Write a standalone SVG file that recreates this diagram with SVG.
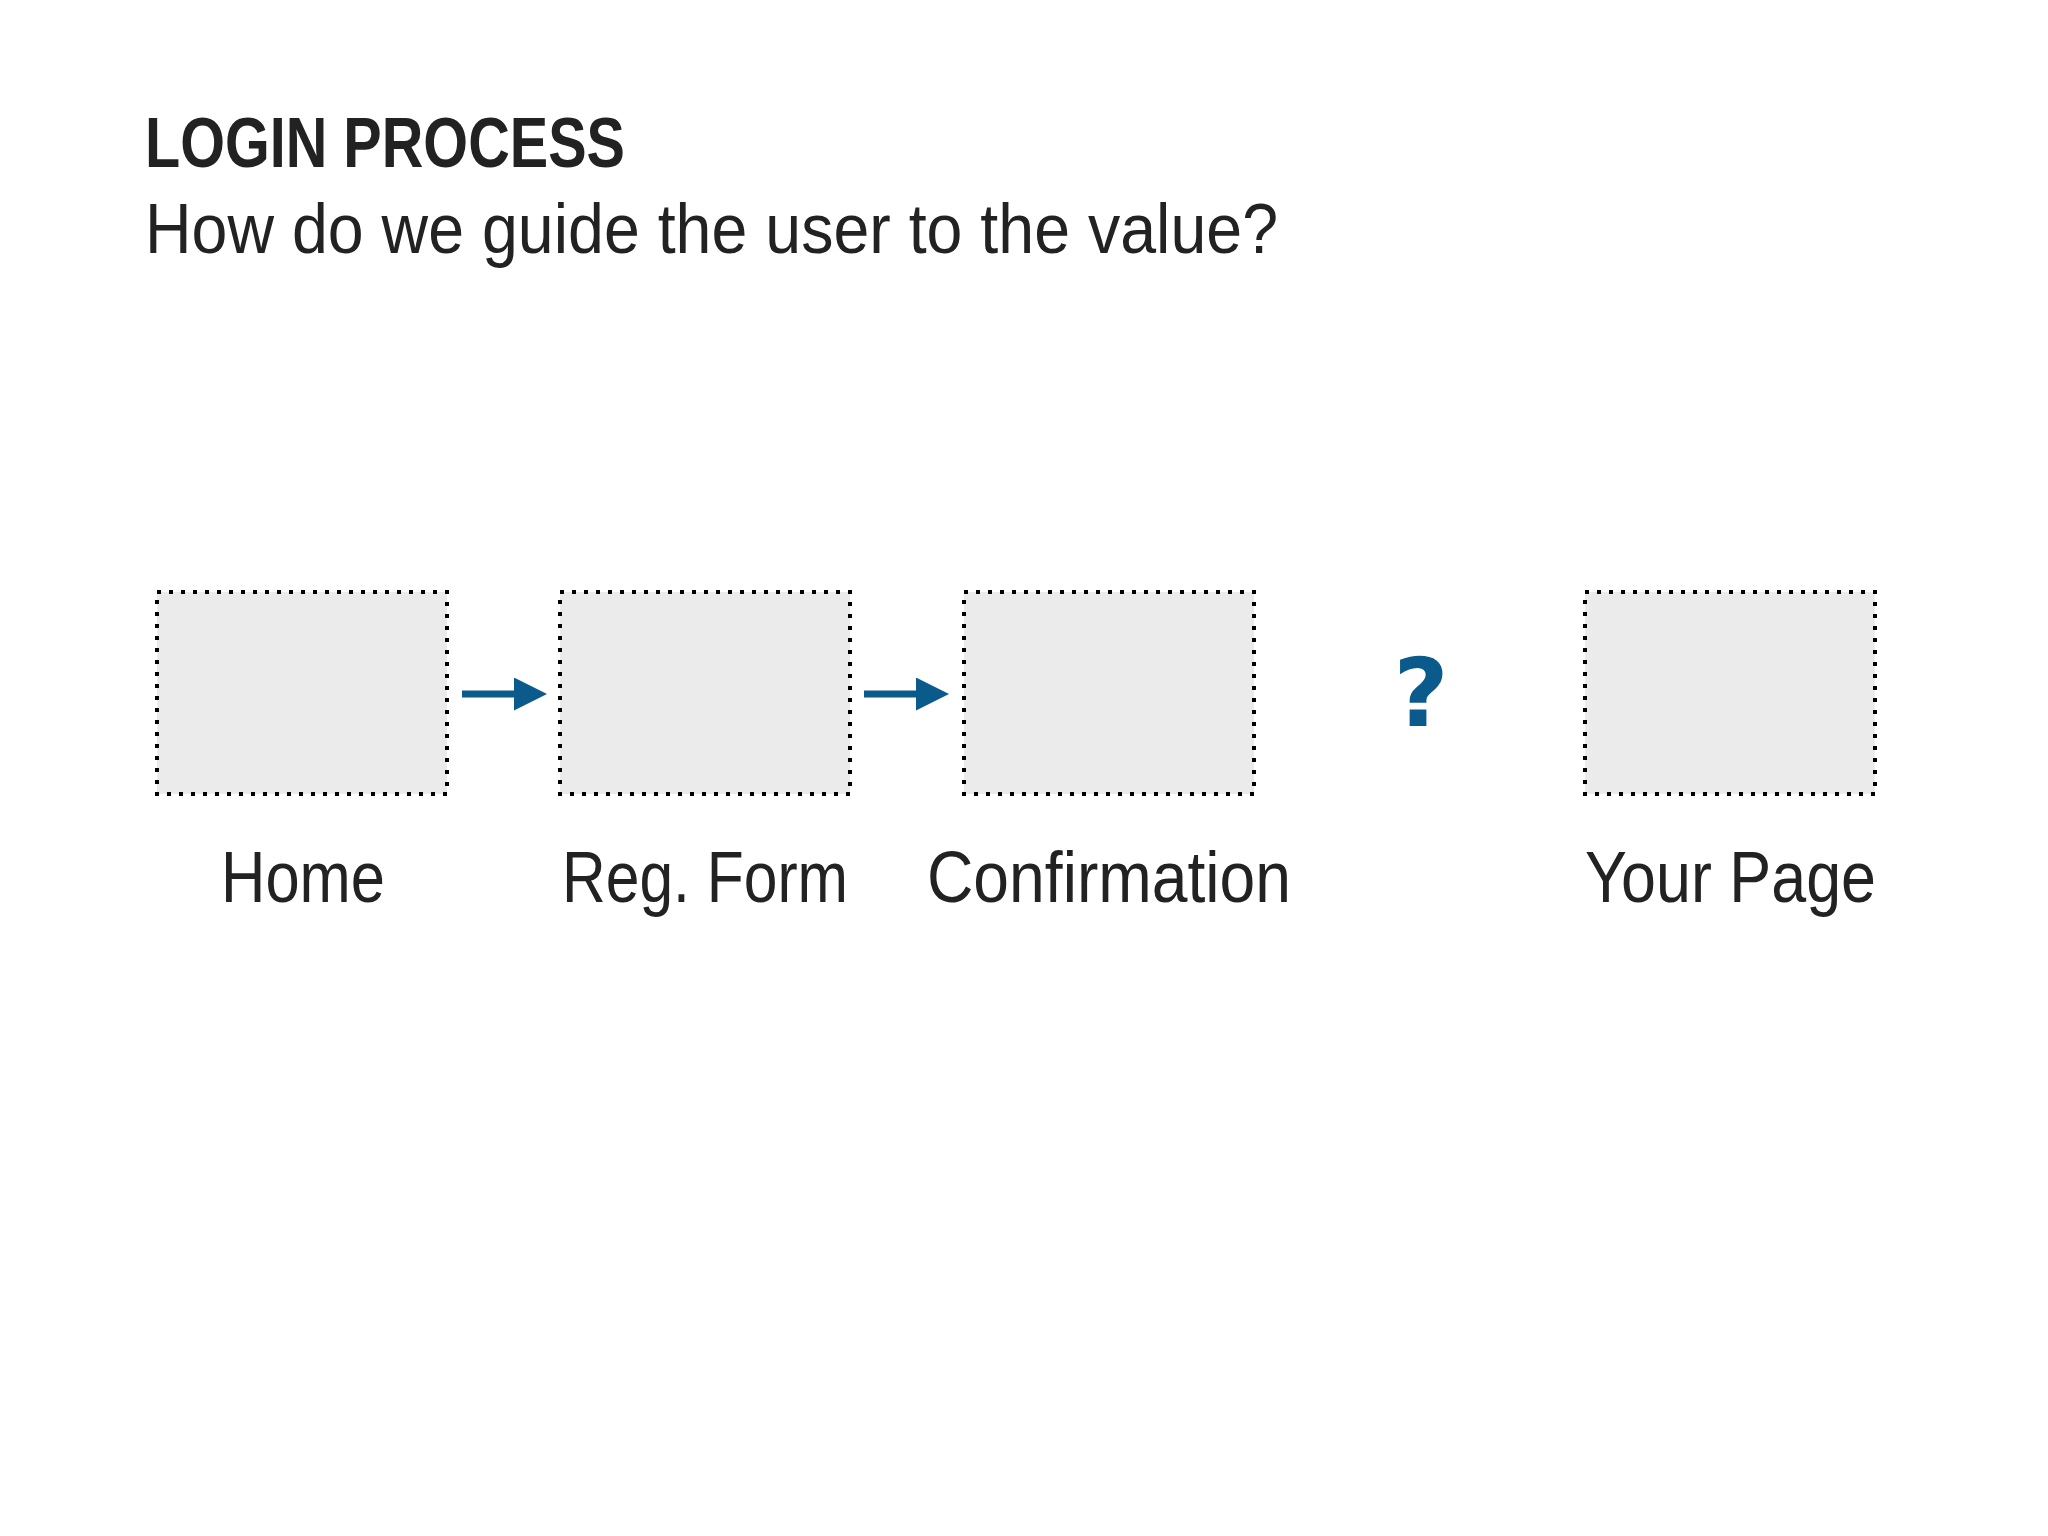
<svg xmlns="http://www.w3.org/2000/svg" width="2048" height="1536" viewBox="0 0 2048 1536">
  <style>
    .t { font-family: "Liberation Sans", Arial, sans-serif; fill: #222222; }
    .box { fill: #ebebec; stroke: #000000; stroke-width: 4; stroke-dasharray: 4 8; }
    .arr { stroke: #0a5a8b; stroke-width: 7; fill: none; }
  </style>
  <defs>
    <marker id="ah" markerUnits="userSpaceOnUse" markerWidth="33" markerHeight="33" viewBox="0 0 33 33" refX="0" refY="16.5" orient="auto">
      <path d="M0,0 L33,16.5 L0,33 z" fill="#0a5a8b"/>
    </marker>
  </defs>
  <rect width="2048" height="1536" fill="#ffffff"/>
  <g id="title">
    <text class="t" x="145" y="167" font-size="70" font-weight="bold" textLength="480" lengthAdjust="spacingAndGlyphs">LOGIN PROCESS</text>
    <text class="t" x="145" y="253" font-size="70" textLength="1133" lengthAdjust="spacingAndGlyphs">How do we guide the user to the value?</text>
  </g>
  <g id="home">
    <rect class="box" x="157" y="592" width="290" height="202"/>
    <text class="t" x="221" y="902" font-size="72" textLength="164" lengthAdjust="spacingAndGlyphs">Home</text>
  </g>
  <g id="regform">
    <rect class="box" x="560" y="592" width="290" height="202"/>
    <text class="t" x="562" y="902" font-size="72" textLength="286" lengthAdjust="spacingAndGlyphs">Reg. Form</text>
  </g>
  <g id="confirmation">
    <rect class="box" x="964" y="592" width="290" height="202"/>
    <text class="t" x="927" y="902" font-size="72" textLength="364" lengthAdjust="spacingAndGlyphs">Confirmation</text>
  </g>
  <g id="question">
    <text x="1421" y="726" font-family="DejaVu Sans, sans-serif" font-weight="bold" font-size="95" fill="#0a5a8b" text-anchor="middle">?</text>
  </g>
  <g id="yourpage">
    <rect class="box" x="1585" y="592" width="290" height="202"/>
    <text class="t" x="1585" y="902" font-size="72" textLength="291" lengthAdjust="spacingAndGlyphs">Your Page</text>
  </g>
  <g id="connectors">
    <line class="arr" x1="462" y1="694" x2="514" y2="694" marker-end="url(#ah)"/>
    <line class="arr" x1="864" y1="694" x2="916" y2="694" marker-end="url(#ah)"/>
  </g>
</svg>
